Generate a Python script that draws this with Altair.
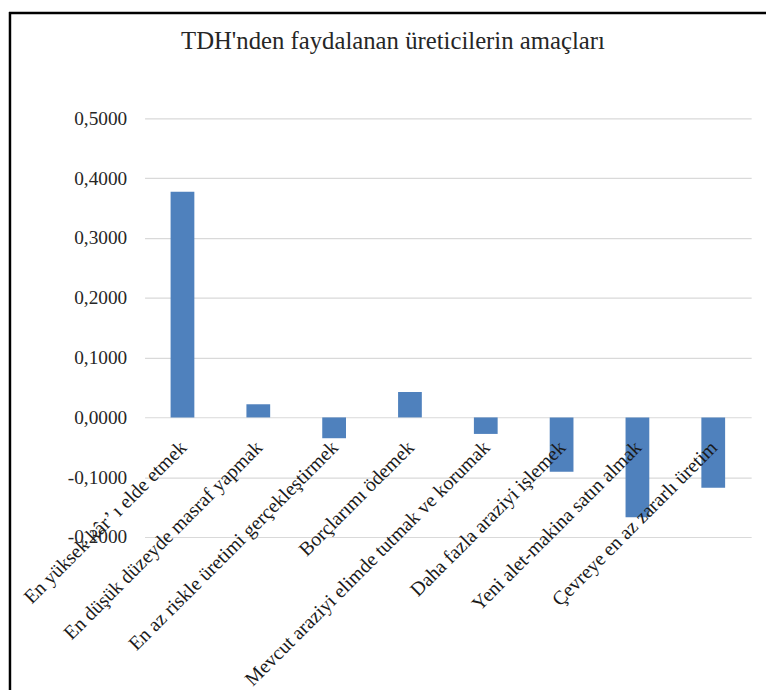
import altair as alt
import pandas as pd

categories = [
    "En yüksek kâr’ ı elde etmek",
    "En düşük düzeyde masraf yapmak",
    "En az riskle üretimi gerçekleştirmek",
    "Borçlarımı ödemek",
    "Mevcut araziyi elimde tutmak ve korumak",
    "Daha fazla araziyi işlemek",
    "Yeni alet-makina satın almak",
    "Çevreye en az zararlı üretim",
]
values = [0.3775, 0.0220, -0.0348, 0.0425, -0.0276, -0.0910, -0.1670, -0.1175]
y_ticks = [-0.2, -0.1, 0.0, 0.1, 0.2, 0.3, 0.4, 0.5]
title_text = "TDH'nden faydalanan üreticilerin amaçları"

df = pd.DataFrame({"cat": categories, "val": values})

W, H = 613, 423
FONT = "Liberation Serif"

bars = alt.Chart(df).mark_bar(color="#4F81BD", size=24).encode(
    x=alt.X(
        "cat:N",
        sort=categories,
        scale=alt.Scale(paddingInner=0, paddingOuter=0),
        axis=alt.Axis(
            title=None,
            labelAngle=-45,
            labelAlign="right",
            labelBaseline="middle",
            labelPadding=27,
            labelOffset=1,
            labelFont=FONT,
            labelFontSize=20,
            labelColor="#1a1a1a",
            labelLimit=500,
            labelOverlap=False,
            ticks=False,
            domain=False,
            grid=False,
            offset=-120.86,
            zindex=1,
        ),
    ),
    y=alt.Y(
        "val:Q",
        scale=alt.Scale(domain=[-0.2, 0.5], nice=False, zero=False),
        axis=alt.Axis(
            title=None,
            values=y_ticks,
            format=".4f",
            labelExpr="replace(replace(datum.label, '.', ','), '\u2212', '-')",
            labelFont=FONT,
            labelFontSize=19.5,
            labelColor="#262626",
            labelPadding=18,
            ticks=False,
            domain=False,
            grid=True,
            gridColor="#D9D9D9",
            gridWidth=1.2,
        ),
    ),
)

frame_df = pd.DataFrame({"a": [0]})
left_line = alt.Chart(frame_df).mark_rule(color="black", strokeWidth=2.5).encode(
    x=alt.value(-136), y=alt.value(-107.5), y2=alt.value(590)
)
top_line = alt.Chart(frame_df).mark_rule(color="black", strokeWidth=2.5).encode(
    x=alt.value(-137), x2=alt.value(640), y=alt.value(-106.5)
)
title_mark = alt.Chart(frame_df).mark_text(
    font=FONT,
    fontSize=25,
    color="#262626",
    align="center",
    baseline="alphabetic",
).encode(
    x=alt.value(251),
    y=alt.value(-70),
    text=alt.value(title_text),
)

chart = alt.layer(bars, left_line, top_line, title_mark).properties(
    width=W,
    height=H,
    autosize=alt.AutoSizeParams(type="none"),
    padding={"left": 138, "top": 108, "right": 15, "bottom": 151},
).configure_view(stroke=None)

chart.save("out.html", embed_options={"renderer": "svg", "actions": False})
